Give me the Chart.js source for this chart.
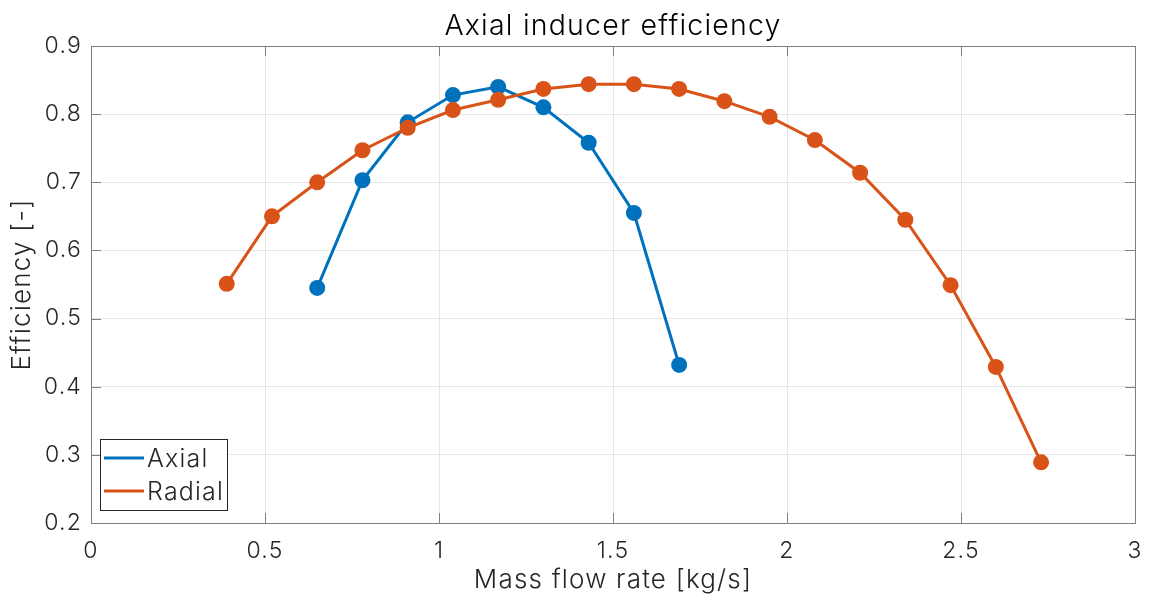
<!DOCTYPE html>
<html>
<head>
<meta charset="utf-8">
<script src="https://cdn.jsdelivr.net/npm/chart.js@4.4.1/dist/chart.umd.min.js"></script>
<style>
  html, body { margin: 0; padding: 0; background: #fff; }
  #wrap { width: 1156px; height: 600px; }
</style>
</head>
<body>
<div id="wrap"><canvas id="effChart" width="1156" height="600"></canvas></div>
<script>
// Mass flow rate [kg/s] and efficiency for each inducer
const axialFlow = [0.65, 0.78, 0.91, 1.04, 1.17, 1.30, 1.43, 1.56, 1.69];
const axialEff = [0.545, 0.703, 0.788, 0.828, 0.840, 0.810, 0.758, 0.655, 0.432];

const radialFlow = [0.39, 0.52, 0.65, 0.78, 0.91, 1.04, 1.17, 1.30, 1.43, 1.56,
                    1.69, 1.82, 1.95, 2.08, 2.21, 2.34, 2.47, 2.60, 2.73];
const radialEff = [0.551, 0.650, 0.700, 0.747, 0.780, 0.806, 0.821, 0.837, 0.844, 0.844,
                   0.837, 0.819, 0.796, 0.762, 0.714, 0.645, 0.549, 0.429, 0.289];

const xTicks = [0, 0.5, 1, 1.5, 2, 2.5, 3];
const yTicks = [0.2, 0.3, 0.4, 0.5, 0.6, 0.7, 0.8, 0.9];

const FONT = 'Inter, "Liberation Sans", Arial, sans-serif';
const SPACING = '1.2px';
const TEXT = '#262626';
const BLUE = '#0072BD';
const ORANGE = '#D95319';

function toPoints(xs, ys) {
    return xs.map((x, i) => ({ x, y: ys[i] }));
}

// Box, inner tick marks, title and legend
const matlabAxes = {
    id: 'matlabAxes',
    beforeDraw(chart) {
        chart.ctx.letterSpacing = SPACING;
    },
    afterDatasetsDraw(chart) {
        const { ctx, chartArea: a, scales } = chart;
        ctx.save();
        ctx.letterSpacing = SPACING;
        ctx.strokeStyle = '#808080';
        ctx.lineWidth = 1;
        ctx.beginPath();
        xTicks.forEach(v => {
            const px = Math.round(scales.x.getPixelForValue(v)) + 0.5;
            ctx.moveTo(px, a.bottom); ctx.lineTo(px, a.bottom - 10);
            ctx.moveTo(px, a.top); ctx.lineTo(px, a.top + 10);
        });
        yTicks.forEach(v => {
            const py = Math.round(scales.y.getPixelForValue(v)) + 0.5;
            ctx.moveTo(a.left, py); ctx.lineTo(a.left + 10, py);
            ctx.moveTo(a.right, py); ctx.lineTo(a.right - 10, py);
        });
        ctx.stroke();
        ctx.strokeRect(Math.round(a.left) + 0.5, Math.round(a.top) + 0.5,
                       Math.round(a.right - a.left), Math.round(a.bottom - a.top));

        // title
        ctx.fillStyle = '#000';
        ctx.font = '300 28.5px ' + FONT;
        ctx.textAlign = 'center';
        ctx.textBaseline = 'middle';
        ctx.fillText('Axial inducer efficiency', (a.left + a.right) / 2, 26);

        // legend
        const lx = 100, ly = 439, lw = 127, lh = 71;
        ctx.fillStyle = '#fff';
        ctx.fillRect(lx, ly, lw, lh);
        ctx.strokeStyle = '#262626';
        ctx.strokeRect(lx + 0.5, ly + 0.5, lw, lh);
        ctx.font = '300 25px ' + FONT;
        ctx.textAlign = 'left';
        chart.data.datasets.forEach((ds, i) => {
            const y = ly + 19 + i * 33;
            ctx.strokeStyle = ds.borderColor;
            ctx.lineWidth = 3;
            ctx.beginPath();
            ctx.moveTo(lx + 4, y); ctx.lineTo(lx + 44, y);
            ctx.stroke();
            ctx.fillStyle = TEXT;
            ctx.fillText(ds.label, lx + 47, y + 1);
        });
        ctx.restore();
    }
};

const ctx = document.getElementById('effChart').getContext('2d');
const effChart = new Chart(ctx, {
    type: 'line',
    data: {
        datasets: [{
            label: 'Axial',
            data: toPoints(axialFlow, axialEff),
            borderColor: BLUE,
            backgroundColor: BLUE,
            borderWidth: 3,
            pointRadius: 8,
            pointBorderWidth: 0,
            tension: 0,
            order: 1
        }, {
            label: 'Radial',
            data: toPoints(radialFlow, radialEff),
            borderColor: ORANGE,
            backgroundColor: ORANGE,
            borderWidth: 3,
            pointRadius: 8,
            pointBorderWidth: 0,
            tension: 0,
            order: 0
        }]
    },
    options: {
        responsive: false,
        animation: false,
        layout: { padding: { left: 0, right: 19, top: 46, bottom: 0 } },
        plugins: {
            legend: { display: false },
            title: { display: false },
            tooltip: { enabled: false }
        },
        scales: {
            x: {
                type: 'linear',
                min: 0,
                max: 3,
                afterBuildTicks: s => { s.ticks = xTicks.map(v => ({ value: v })); },
                afterFit: s => { s.height = 77; },
                grid: { color: '#e6e6e6', drawTicks: false },
                border: { display: false },
                ticks: {
                    color: TEXT,
                    padding: 14,
                    font: { family: FONT, size: 23, weight: 300 },
                    callback: v => String(v)
                },
                title: {
                    display: true,
                    text: 'Mass flow rate [kg/s]',
                    color: TEXT,
                    font: { family: FONT, size: 26, weight: 300 },
                    padding: { top: 0, bottom: 4 }
                }
            },
            y: {
                min: 0.2,
                max: 0.9,
                afterBuildTicks: s => { s.ticks = yTicks.map(v => ({ value: v })); },
                afterFit: s => { s.width = 91; },
                grid: { color: '#e6e6e6', drawTicks: false },
                border: { display: false },
                ticks: {
                    color: TEXT,
                    padding: 9,
                    font: { family: FONT, size: 23, weight: 300 },
                    callback: v => v.toFixed(1)
                },
                title: {
                    display: true,
                    text: 'Efficiency [-]',
                    color: TEXT,
                    font: { family: FONT, size: 26, weight: 300 },
                    padding: { top: 7, bottom: 0 }
                }
            }
        }
    },
    plugins: [matlabAxes]
});
</script>
</body>
</html>
